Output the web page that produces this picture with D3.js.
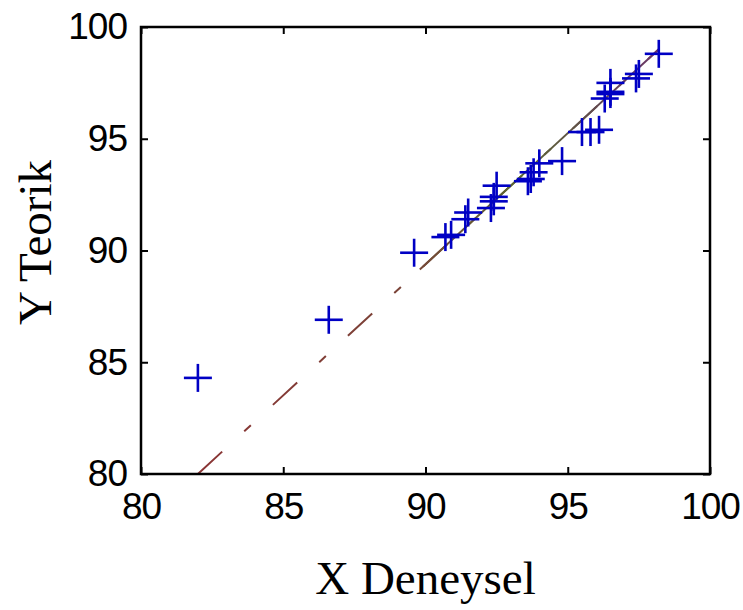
<!DOCTYPE html>
<html>
<head>
<meta charset="utf-8">
<script src="https://cdn.jsdelivr.net/npm/d3@7"></script>
<style>
  body { margin: 0; background: #ffffff; }
  svg { display: block; }
</style>
</head>
<body>
<div class="chart"></div>
<script>
//Measured pairs (experimental vs theoretical)
var xDeneysel = [82.0, 86.6, 89.6, 90.7, 90.9, 91.4, 91.5, 92.3, 92.4, 92.4, 92.5, 93.6, 93.7, 93.8, 94.0, 94.8, 95.5, 95.8, 96.1, 96.3, 96.5, 96.5, 96.5, 97.4, 97.5, 98.2];
var yTeorik   = [84.3, 86.9, 89.9, 90.6, 90.7, 91.4, 91.7, 91.9, 92.2, 92.4, 92.9, 93.1, 93.2, 93.5, 93.9, 94.0, 95.3, 95.3, 95.4, 96.8, 97.0, 97.1, 97.5, 97.7, 97.9, 98.8];

//Fitted line end points, and the part that looks solid (retraced many times)
var fitLine  = [[82.0, 80.0], [98.2, 99.0]];
var fitDense = [[89.8, 89.15], [98.2, 99.0]];

var xTicks = [80, 85, 90, 95, 100];
var yTicks = [80, 85, 90, 95, 100];

var width = 743, height = 610;
var plotLeft = 141, plotRight = 710, plotTop = 27, plotBottom = 474;

var x = d3.scaleLinear().domain([80, 100]).range([plotLeft, plotRight]);
var y = d3.scaleLinear().domain([80, 100]).range([plotBottom, plotTop]);

var svg = d3.select(".chart")
    .append("svg")
    .attr("width", width)
    .attr("height", height);

svg.append("rect")
    .attr("width", width)
    .attr("height", height)
    .attr("fill", "#ffffff");

//Gradient for the fit line colour shift
var grad = svg.append("defs").append("linearGradient")
    .attr("id", "fitGrad")
    .attr("gradientUnits", "userSpaceOnUse")
    .attr("x1", x(82)).attr("y1", y(80))
    .attr("x2", x(98.2)).attr("y2", y(99));
grad.append("stop").attr("offset", "0%").attr("stop-color", "#8a3434");
grad.append("stop").attr("offset", "45%").attr("stop-color", "#7a4438");
grad.append("stop").attr("offset", "70%").attr("stop-color", "#5a6630");
grad.append("stop").attr("offset", "100%").attr("stop-color", "#6a3468");

var line = d3.line().x(d => x(d[0])).y(d => y(d[1]));

svg.append("path")
    .datum(fitLine)
    .attr("d", line)
    .attr("fill", "none")
    .attr("stroke", "url(#fitGrad)")
    .attr("stroke-width", 2)
    .attr("stroke-dasharray", "33,30,9,30");

svg.append("path")
    .datum(fitDense)
    .attr("d", line)
    .attr("fill", "none")
    .attr("stroke", "url(#fitGrad)")
    .attr("stroke-width", 2);

//Plus markers
var half = 14;
var pts = svg.append("g")
    .attr("stroke", "#0000c4")
    .attr("stroke-width", 2.6)
    .selectAll("g")
    .data(xDeneysel.map((v, i) => [v, yTeorik[i]]))
    .join("g")
    .attr("transform", d => `translate(${x(d[0])},${y(d[1])})`);
pts.append("line").attr("x1", -half).attr("x2", half);
pts.append("line").attr("y1", -half).attr("y2", half);

//Axes, ticks pointing inward on all sides
function styleAxis(g) {
    g.select(".domain").remove();
    g.selectAll(".tick line").attr("stroke", "#000").attr("stroke-width", 2);
    g.selectAll("text")
        .attr("fill", "#000")
        .style("font-family", "'Liberation Sans', Arial, sans-serif")
        .style("font-size", "37px")
        .style("letter-spacing", "-1px");
}

svg.append("g")
    .attr("transform", `translate(0,${plotBottom})`)
    .call(d3.axisBottom(x).tickValues(xTicks).tickSizeInner(-7).tickSizeOuter(0).tickPadding(19))
    .call(styleAxis);

svg.append("g")
    .attr("transform", `translate(0,${plotTop})`)
    .call(d3.axisTop(x).tickValues(xTicks).tickSizeInner(-7).tickSizeOuter(0).tickFormat(""))
    .call(styleAxis);

svg.append("g")
    .attr("transform", `translate(${plotLeft},0)`)
    .call(d3.axisLeft(y).tickValues(yTicks).tickSizeInner(-7).tickSizeOuter(0).tickPadding(14))
    .call(styleAxis);

svg.append("g")
    .attr("transform", `translate(${plotRight},0)`)
    .call(d3.axisRight(y).tickValues(yTicks).tickSizeInner(-7).tickSizeOuter(0).tickFormat(""))
    .call(styleAxis);

//Frame
svg.append("rect")
    .attr("x", plotLeft)
    .attr("y", plotTop)
    .attr("width", plotRight - plotLeft)
    .attr("height", plotBottom - plotTop)
    .attr("fill", "none")
    .attr("stroke", "#000")
    .attr("stroke-width", 2.5);

//Titles
svg.append("text")
    .attr("x", (plotLeft + plotRight) / 2)
    .attr("y", 594)
    .attr("text-anchor", "middle")
    .style("font-family", "'Liberation Serif', 'Times New Roman', serif")
    .style("font-size", "47px")
    .text("X Deneysel");

svg.append("text")
    .attr("transform", `translate(51,${(plotTop + plotBottom) / 2 - 8}) rotate(-90)`)
    .attr("text-anchor", "middle")
    .style("font-family", "'Liberation Serif', 'Times New Roman', serif")
    .style("font-size", "47px")
    .text("Y Teorik");
</script>
</body>
</html>
